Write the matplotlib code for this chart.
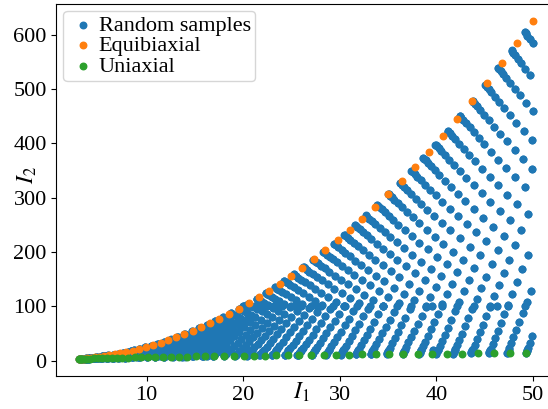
import matplotlib.pyplot as plt
import numpy as np

plt.rcParams.update({
    "font.family": "serif",
    "font.serif": ["Liberation Serif", "DejaVu Serif"],
    "mathtext.fontset": "stix",
    "font.size": 16,
})

# stretch levels used for both in-plane stretches of the sample grid
stretch_levels = [
    0.1000, 0.2408, 0.3816, 0.5224, 0.6633, 0.8041, 0.9449, 1.0857, 1.2265, 1.3673,
    1.5082, 1.6490, 1.7898, 1.9306, 2.0714, 2.2122, 2.3531, 2.4939, 2.6347, 2.7755,
    2.9163, 3.0571, 3.1980, 3.3388, 3.4796, 3.6204, 3.7612, 3.9020, 4.0429, 4.1837,
    4.3245, 4.4653, 4.6061, 4.7469, 4.8878, 5.0286, 5.1694, 5.3102, 5.4510, 5.5918,
    5.7327, 5.8735, 6.0143, 6.1551, 6.2959, 6.4367, 6.5776, 6.7184, 6.8592, 7.0000,
]
i1_cutoff = 50.0

equi_i1 = [
    3.00, 3.07, 3.25, 3.52, 3.84, 4.22, 4.64, 5.10, 5.60, 6.13,
    6.69, 7.28, 7.90, 8.55, 9.23, 9.94, 10.67, 11.43, 12.22, 13.04,
    13.88, 14.75, 15.65, 16.58, 17.53, 18.50, 19.51, 20.54, 21.60, 22.69,
    23.80, 24.94, 26.10, 27.29, 28.51, 29.76, 31.03, 32.33, 33.65, 35.01,
    36.39, 37.79, 39.23, 40.68, 42.17, 43.68, 45.22, 46.79, 48.38, 50.00,
]
equi_i2 = [
    3.00, 3.08, 3.31, 3.69, 4.23, 4.94, 5.83, 6.91, 8.20, 9.72,
    11.49, 13.53, 15.87, 18.52, 21.52, 24.89, 28.66, 32.86, 37.51, 42.66,
    48.33, 54.55, 61.36, 68.81, 76.91, 85.71, 95.26, 105.59, 116.74, 128.75,
    141.67, 155.54, 170.40, 186.33, 203.32, 221.46, 240.82, 261.39, 283.24, 306.47,
    331.10, 357.15, 384.74, 413.90, 444.65, 477.14, 511.35, 547.35, 585.28, 625.08,
]

uni_i1 = [
    3.00, 3.04, 3.16, 3.33, 3.56, 3.84, 4.16, 4.53, 4.93, 5.37,
    5.85, 6.36, 6.91, 7.49, 8.10, 8.75, 9.43, 10.15, 10.89, 11.67,
    12.48, 13.32, 14.19, 15.09, 16.02, 16.99, 17.98, 19.01, 20.06, 21.15,
    22.27, 23.42, 24.60, 25.81, 27.05, 28.32, 29.62, 30.95, 32.31, 33.70,
    35.13, 36.58, 38.06, 39.57, 41.12, 42.69, 44.29, 45.93, 47.59, 49.29,
]
uni_i2 = [
    3.00, 3.04, 3.13, 3.27, 3.43, 3.61, 3.80, 4.00, 4.21, 4.43,
    4.65, 4.88, 5.10, 5.33, 5.56, 5.80, 6.03, 6.27, 6.51, 6.74,
    6.98, 7.22, 7.46, 7.70, 7.94, 8.18, 8.42, 8.67, 8.91, 9.15,
    9.39, 9.64, 9.88, 10.12, 10.36, 10.61, 10.85, 11.09, 11.34, 11.58,
    11.82, 12.07, 12.31, 12.56, 12.80, 13.04, 13.29, 13.53, 13.78, 14.02,
]

# invariants of the sampled stretch grid (incompressible: lam3 = 1 / (lam1 lam2))
lam1, lam2 = np.meshgrid(stretch_levels, stretch_levels)
lam3 = 1.0 / (lam1 * lam2)
rand_i1 = lam1**2 + lam2**2 + lam3**2
rand_i2 = lam1**-2 + lam2**-2 + lam3**-2
keep = rand_i1 <= i1_cutoff

fig = plt.figure(figsize=(5.48, 4.09), dpi=100)
ax = fig.add_axes([0.103, 0.081, 0.911, 0.909])

ax.scatter(rand_i1[keep], rand_i2[keep], s=22, label="Random samples")
ax.scatter(equi_i1, equi_i2, s=22, label="Equibiaxial")
ax.scatter(uni_i1, uni_i2, s=22, label="Uniaxial")

ax.set_xlabel("$I_1$", fontsize=17)
ax.set_ylabel("$I_2$", fontsize=17)
ax.xaxis.set_label_coords(0.49, -0.012)
ax.yaxis.set_label_coords(-0.035, 0.54)
ax.legend(loc="upper left", fontsize=16, labelspacing=0.0, borderpad=0.2,
          handlelength=1.4, handletextpad=0.0, borderaxespad=0.3)

fig.savefig("out.png", dpi=100)
